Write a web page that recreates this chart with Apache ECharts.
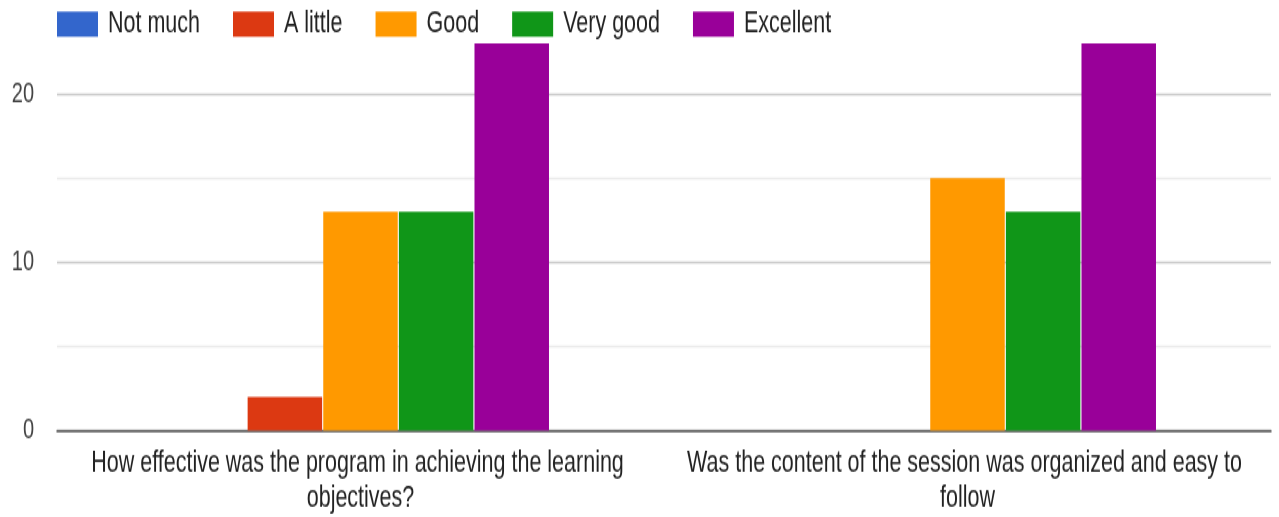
<!DOCTYPE html>
<html>
<head>
<meta charset="utf-8">
<script src="https://cdn.jsdelivr.net/npm/echarts@6/dist/echarts.min.js"></script>
<style>
  html, body { margin: 0; padding: 0; background: #fff; width: 1279px; height: 517px; }
  /* the chart is laid out in a shorter box and stretched vertically */
  #chart { width: 1279px; height: 369.3px; transform: scaleY(1.4); transform-origin: 0 0; }
</style>
</head>
<body>
<div id="chart"></div>
<script>
const categories = [
  'How effective was the program in achieving the learning objectives?',
  'Was the content of the session was organized and easy to follow'
];
const seriesNames = ['Not much', 'A little', 'Good', 'Very good', 'Excellent'];
const notMuch = [0, 0];
const aLittle = [2, 0];
const good = [13, 15];
const veryGood = [13, 13];
const excellent = [23, 23];
const yTicks = [0, 10, 20];

const palette = ['#3366cc', '#dc3912', '#ff9900', '#109618', '#990099'];
const values = [notMuch, aLittle, good, veryGood, excellent];
const font = "'Liberation Sans', Arial, sans-serif";

const chart = echarts.init(document.getElementById('chart'));
chart.setOption({
  animation: false,
  color: palette,
  legend: {
    left: 57,
    top: 6.3,
    padding: 0,
    icon: 'rect',
    itemWidth: 41,
    itemHeight: 18,
    itemGap: 33,
    textStyle: { fontFamily: font, fontSize: 21.5, color: '#222', padding: [0, 0, 0, 5] },
    data: seriesNames
  },
  grid: { left: 57, right: 8, top: 6.9, bottom: 61.4 },
  xAxis: {
    type: 'category',
    data: categories,
    axisLine: { lineStyle: { color: '#555', width: 1.5 } },
    axisTick: { show: false },
    axisLabel: {
      interval: 0,
      margin: 10.5,
      width: 590,
      overflow: 'break',
      fontFamily: font,
      fontSize: 21.5,
      lineHeight: 25,
      color: '#222',
      align: 'center'
    }
  },
  yAxis: {
    type: 'value',
    min: 0,
    max: 25,
    interval: 5,
    axisLine: { show: false },
    axisTick: { show: false },
    axisLabel: {
      margin: 23,
      fontFamily: font,
      fontSize: 20,
      color: '#444',
      showMaxLabel: false,
      formatter: v => (yTicks.indexOf(v) >= 0 ? String(v) : '')
    },
    splitLine: {
      showMaxLine: false,
      lineStyle: { color: ['#cccccc', '#ebebeb'], width: 1.4 }
    }
  },
  series: seriesNames.map((name, i) => ({
    name,
    type: 'bar',
    data: values[i],
    barWidth: 74.5,
    barGap: '1.5%'
  }))
});
</script>
</body>
</html>
